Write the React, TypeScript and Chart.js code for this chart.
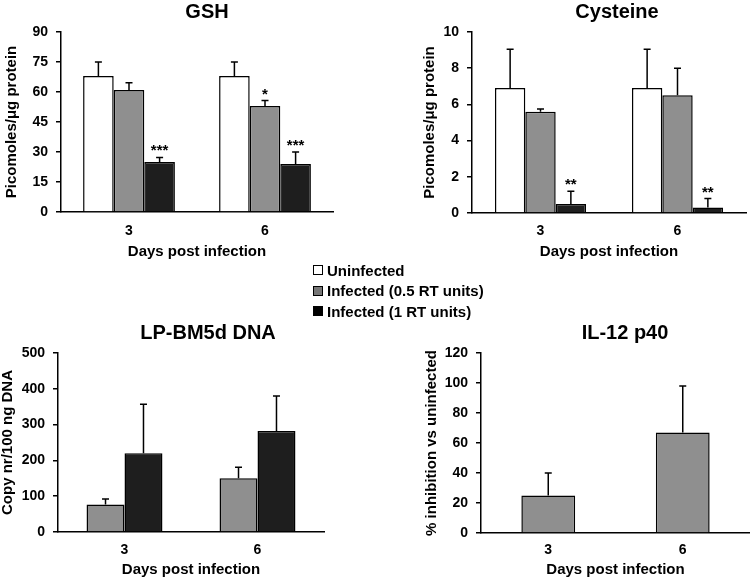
import React, { useEffect, useRef } from "react";
import { Chart, registerables } from "chart.js";

Chart.register(...registerables);

const FONT = '"Liberation Sans", Arial, Helvetica, sans-serif';

// ---------- data ----------
const days = ["3", "6"];
const seriesNames = ["Uninfected", "Infected (0.5 RT units)", "Infected (1 RT units)"];
const barColors = ["#ffffff", "#8f8f8f", "#1e1e1e"];
const legendColors = ["#ffffff", "#767676", "#000000"];

const gshUninfected = [68, 68];
const gshUninfectedErr = [7, 7];
const gshInf05 = [61, 53];
const gshInf05Err = [3.6, 2.7];
const gshInf1 = [25, 24];
const gshInf1Err = [2.3, 6];
const gshInf05Stars = ["", "*"];
const gshInf1Stars = ["***", "***"];

const cysUninfected = [6.9, 6.9];
const cysUninfectedErr = [2.15, 2.15];
const cysInf05 = [5.6, 6.5];
const cysInf05Err = [0.15, 1.5];
const cysInf1 = [0.5, 0.3];
const cysInf1Err = [0.7, 0.5];
const cysInf1Stars = ["**", "**"];

const dnaInf05 = [77, 150];
const dnaInf05Err = [15, 31];
const dnaInf1 = [220, 282];
const dnaInf1Err = [137, 98];

const il12Inhibition = [25, 67];
const il12InhibitionErr = [15, 31];

// ---------- plugin: error bars + significance stars ----------
const errorBarPlugin = {
  id: "errorBars",
  afterDatasetsDraw(chart: any) {
    const ctx = chart.ctx;
    const yScale = chart.scales.y;
    chart.data.datasets.forEach((ds: any, i: number) => {
      const meta = chart.getDatasetMeta(i);
      meta.data.forEach((bar: any, j: number) => {
        const v = ds.data[j];
        const e = ds.errors ? ds.errors[j] : 0;
        const yTop = yScale.getPixelForValue(v + e);
        ctx.save();
        ctx.strokeStyle = "#000";
        ctx.lineWidth = 1.5;
        ctx.beginPath();
        ctx.moveTo(bar.x, bar.y);
        ctx.lineTo(bar.x, yTop);
        ctx.moveTo(bar.x - 3.5, yTop);
        ctx.lineTo(bar.x + 3.5, yTop);
        ctx.stroke();
        const s = ds.stars ? ds.stars[j] : "";
        if (s) {
          ctx.fillStyle = "#000";
          ctx.font = `bold 15px ${FONT}`;
          ctx.textAlign = "center";
          ctx.textBaseline = "alphabetic";
          ctx.fillText(s, bar.x, yTop - 2);
        }
        ctx.restore();
      });
    });
  },
};

type DS = { label: string; data: number[]; errors: number[]; stars?: string[]; color: string };
type Panel = {
  key: string;
  left: number; top: number; width: number; height: number;
  yW: number; rW: number; xH: number;
  yTitlePad: number; titlePadTop: number; titlePadBottom: number; xTickPad: number;
  title: string; yTitle: string; yMax: number; yStep: number;
  catPct: number; datasets: DS[];
};

const panels: Panel[] = [
  {
    key: "gsh", left: 0, top: 0, width: 414, height: 261,
    yW: 61, rW: 81, xH: 49, yTitlePad: 3, titlePadTop: 0, titlePadBottom: 8, xTickPad: 11,
    title: "GSH", yTitle: "Picomoles/\u03bcg protein", yMax: 90, yStep: 15, catPct: 0.675,
    datasets: [
      { label: seriesNames[0], data: gshUninfected, errors: gshUninfectedErr, color: barColors[0] },
      { label: seriesNames[1], data: gshInf05, errors: gshInf05Err, stars: gshInf05Stars, color: barColors[1] },
      { label: seriesNames[2], data: gshInf1, errors: gshInf1Err, stars: gshInf1Stars, color: barColors[2] },
    ],
  },
  {
    key: "cys", left: 420, top: 0, width: 394, height: 261,
    yW: 52, rW: 68, xH: 48, yTitlePad: 1, titlePadTop: 0, titlePadBottom: 8, xTickPad: 10,
    title: "Cysteine", yTitle: "Picomoles/\u03bcg protein", yMax: 10, yStep: 2, catPct: 0.665,
    datasets: [
      { label: seriesNames[0], data: cysUninfected, errors: cysUninfectedErr, color: barColors[0] },
      { label: seriesNames[1], data: cysInf05, errors: cysInf05Err, color: barColors[1] },
      { label: seriesNames[2], data: cysInf1, errors: cysInf1Err, stars: cysInf1Stars, color: barColors[2] },
    ],
  },
  {
    key: "dna", left: -1, top: 320, width: 418, height: 259,
    yW: 59, rW: 93, xH: 47, yTitlePad: 0, titlePadTop: 1, titlePadBottom: 8, xTickPad: 10,
    title: "LP-BM5d DNA", yTitle: "Copy nr/100 ng DNA", yMax: 500, yStep: 100, catPct: 0.571,
    datasets: [
      { label: seriesNames[1], data: dnaInf05, errors: dnaInf05Err, color: barColors[1] },
      { label: seriesNames[2], data: dnaInf1, errors: dnaInf1Err, color: barColors[2] },
    ],
  },
  {
    key: "il12", left: 420, top: 320, width: 410, height: 259,
    yW: 61, rW: 80, xH: 46, yTitlePad: 3, titlePadTop: 1, titlePadBottom: 8, xTickPad: 9,
    title: "IL-12 p40", yTitle: "% inhibition vs uninfected", yMax: 120, yStep: 20, catPct: 0.4,
    datasets: [
      { label: seriesNames[1], data: il12Inhibition, errors: il12InhibitionErr, color: barColors[1] },
    ],
  },
];

function PanelChart({ p }: { p: Panel }) {
  const ref = useRef<HTMLCanvasElement | null>(null);
  useEffect(() => {
    if (!ref.current) return;
    const chart = new Chart(ref.current, {
      type: "bar",
      data: {
        labels: days,
        datasets: p.datasets.map((d) => ({
          label: d.label,
          data: d.data,
          errors: d.errors,
          stars: d.stars,
          backgroundColor: d.color,
          borderColor: "#000",
          borderWidth: 1.5,
          categoryPercentage: p.catPct,
          barPercentage: 1,
        })) as any,
      },
      options: {
        responsive: false,
        animation: false,
        devicePixelRatio: 1,
        layout: { padding: 0 },
        plugins: {
          legend: { display: false },
          tooltip: { enabled: false },
          title: {
            display: true,
            text: p.title,
            color: "#000",
            font: { family: FONT, size: 20, weight: "bold" },
            padding: { top: p.titlePadTop, bottom: p.titlePadBottom },
          },
        },
        scales: {
          x: {
            type: "category",
            grid: { display: false, drawTicks: false },
            border: { display: true, color: "#000", width: 1.5 },
            ticks: { color: "#000", padding: p.xTickPad, font: { family: FONT, size: 14, weight: "bold" } },
            title: {
              display: true,
              text: "Days post infection",
              color: "#000",
              font: { family: FONT, size: 15, weight: "bold" },
              padding: { top: 0, bottom: 0 },
            },
            afterFit: (s: any) => { s.height = p.xH; },
          },
          y: {
            type: "linear",
            position: "left",
            min: 0,
            max: p.yMax,
            grid: { display: true, drawOnChartArea: false, drawTicks: true, tickLength: 5, color: "#000", lineWidth: 1.5 },
            border: { display: true, color: "#000", width: 1.5 },
            ticks: { stepSize: p.yStep, color: "#000", padding: 8, font: { family: FONT, size: 14, weight: "bold" } },
            title: {
              display: true,
              text: p.yTitle,
              color: "#000",
              font: { family: FONT, size: 15, weight: "bold" },
              padding: { top: p.yTitlePad, bottom: 0 },
            },
            afterFit: (s: any) => { s.width = p.yW; },
          },
          r: {
            type: "linear",
            position: "right",
            display: true,
            grid: { display: false, drawTicks: false },
            border: { display: false },
            ticks: { display: false },
            afterFit: (s: any) => { s.width = p.rW; },
          },
        },
      } as any,
      plugins: [errorBarPlugin],
    });
    return () => chart.destroy();
  }, [p]);
  return (
    <canvas
      ref={ref}
      width={p.width}
      height={p.height}
      style={{ position: "absolute", left: p.left, top: p.top, width: p.width, height: p.height, display: "block" }}
    />
  );
}

function Legend() {
  return (
    <div
      style={{
        position: "absolute",
        left: 313,
        top: 260,
        font: `bold 15px ${FONT}`,
        color: "#000",
      }}
    >
      {seriesNames.map((n, i) => (
        <div key={n} style={{ display: "flex", alignItems: "center", height: 20.5, whiteSpace: "nowrap" }}>
          <span
            style={{
              display: "inline-block",
              width: 10,
              height: 10,
              boxSizing: "border-box",
              border: "1.5px solid #000",
              background: legendColors[i],
              marginRight: 4,
            }}
          />
          <span>{n}</span>
        </div>
      ))}
    </div>
  );
}

export default function App() {
  return (
    <div
      style={{
        position: "absolute",
        left: 0,
        top: 0,
        width: 750,
        height: 580,
        overflow: "hidden",
        background: "#fff",
      }}
    >
      {panels.map((p) => (
        <PanelChart key={p.key} p={p} />
      ))}
      <Legend />
    </div>
  );
}
